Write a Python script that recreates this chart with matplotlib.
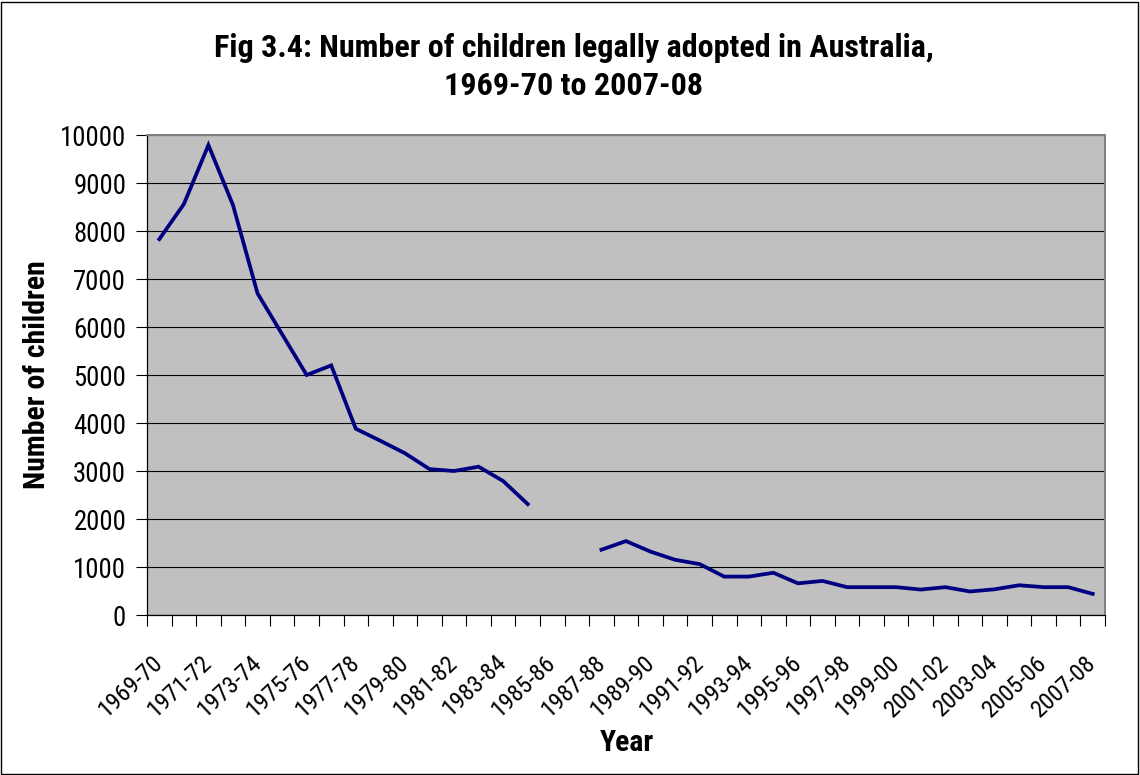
import matplotlib

matplotlib.use("Agg")
import matplotlib.pyplot as plt  # noqa: E402
import numpy as np  # noqa: E402
from matplotlib import font_manager  # noqa: E402
from matplotlib.patches import Rectangle  # noqa: E402

# Financial years, 1969-70 to 2007-08
years = [
    "1969-70", "1970-71", "1971-72", "1972-73", "1973-74", "1974-75",
    "1975-76", "1976-77", "1977-78", "1978-79", "1979-80", "1980-81",
    "1981-82", "1982-83", "1983-84", "1984-85", "1985-86", "1986-87",
    "1987-88", "1988-89", "1989-90", "1990-91", "1991-92", "1992-93",
    "1993-94", "1994-95", "1995-96", "1996-97", "1997-98", "1998-99",
    "1999-00", "2000-01", "2001-02", "2002-03", "2003-04", "2004-05",
    "2005-06", "2006-07", "2007-08",
]

# Children legally adopted per year (no data for 1985-86 and 1986-87)
adoptions = [
    7830, 8560, 9790, 8540, 6700, 5850,
    5000, 5200, 3880, 3630, 3370, 3040,
    3000, 3090, 2790, 2310, np.nan, np.nan,
    1360, 1540, 1320, 1150, 1060, 800,
    800, 880, 660, 710, 580, 580,
    580, 530, 580, 490, 535, 620,
    580, 580, 440,
]

title_lines = [
    "Fig 3.4: Number of children legally adopted in Australia,",
    "1969-70 to 2007-08",
]


def pick_narrow_font():
    """Find a narrow sans face if one is installed, else plain Liberation Sans."""
    fonts = font_manager.fontManager.ttflist
    names = {f.name for f in fonts}
    for name in ("Liberation Sans Narrow", "Arial Narrow", "Roboto Condensed",
                 "Open Sans Condensed", "Noto Sans Condensed"):
        if name in names:
            return name, "normal"
    for name in ("Roboto", "Noto Sans", "Open Sans", "DejaVu Sans"):
        for f in fonts:
            if f.name == name and f.stretch in ("condensed", "semi-condensed",
                                                 "extra-condensed", 75, 87.5):
                return name, f.stretch
    return "Liberation Sans", "normal"


FONT, STRETCH = pick_narrow_font()
plt.rcParams["font.family"] = [FONT, "Liberation Sans", "DejaVu Sans"]
plt.rcParams["font.stretch"] = STRETCH

W, H = 1140, 775
fig = plt.figure(figsize=(W / 100, H / 100), dpi=100)
fig.patch.set_facecolor("white")
renderer = fig.canvas.get_renderer()


def fit_size(text, width_px, base=20, **kw):
    # scale the font size so the string spans the given pixel width
    t = fig.text(0, 0, text, fontsize=base, **kw)
    w = t.get_window_extent(renderer).width
    t.remove()
    return base * width_px / w


title_fs = fit_size(title_lines[0], 718, fontweight="bold")
label_fs = fit_size("Number of children", 228, fontweight="bold")
ytick_fs = fit_size("10000", 66)
xtick_fs = fit_size("1969-70", 78)

# plot area in pixel terms
left, right, top, bottom = 147, 1105, 135, 615
ax = fig.add_axes([left / W, 1 - bottom / H, (right - left) / W, (bottom - top) / H])
ax.set_facecolor("#C0C0C0")

x = np.arange(len(years))
ax.plot(x, adoptions, color="#000080", lw=2.7, solid_joinstyle="miter", zorder=3)

ax.set_xlim(-0.5, len(years) - 0.5)
ax.set_ylim(0, 10000)

ax.set_yticks(np.arange(0, 10001, 1000))
ax.yaxis.grid(True, color="black", lw=0.8)
ax.set_axisbelow(True)
ax.tick_params(axis="y", direction="out", length=8, width=0.8, pad=7,
               labelsize=ytick_fs, colors="black")

# tick marks on category boundaries, labels on every other category
ax.set_xticks(np.arange(-0.5, len(years)), minor=True)
ax.set_xticks(x[::2])
ax.set_xticklabels(years[::2], rotation=43, ha="right", va="center",
                   rotation_mode="anchor")
ax.tick_params(axis="x", which="minor", direction="out", length=8, width=0.8)
ax.tick_params(axis="x", which="major", length=0, pad=32, labelsize=xtick_fs)

for side in ("top", "right"):
    ax.spines[side].set_color("#808080")
    ax.spines[side].set_linewidth(1.4)
for side in ("left", "bottom"):
    ax.spines[side].set_color("black")
    ax.spines[side].set_linewidth(0.9)

# title, axis titles
fig.text(574 / W, 1 - 57 / H, title_lines[0], ha="center", va="baseline",
         fontsize=title_fs, fontweight="bold")
fig.text(574 / W, 1 - 95 / H, title_lines[1], ha="center", va="baseline",
         fontsize=title_fs, fontweight="bold")
fig.text(37 / W, 1 - 375 / H, "Number of children", rotation=90,
         ha="center", va="center", fontsize=label_fs, fontweight="bold")
fig.text(627 / W, 1 - 751 / H, "Year", ha="center", va="baseline",
         fontsize=label_fs, fontweight="bold")

# chart border
fig.patches.append(Rectangle((1 / W, 1 / H), (W - 3) / W, (H - 3) / H,
                             transform=fig.transFigure, fill=False,
                             edgecolor="black", lw=1))

fig.savefig("out.png", dpi=100)
plt.close(fig)
